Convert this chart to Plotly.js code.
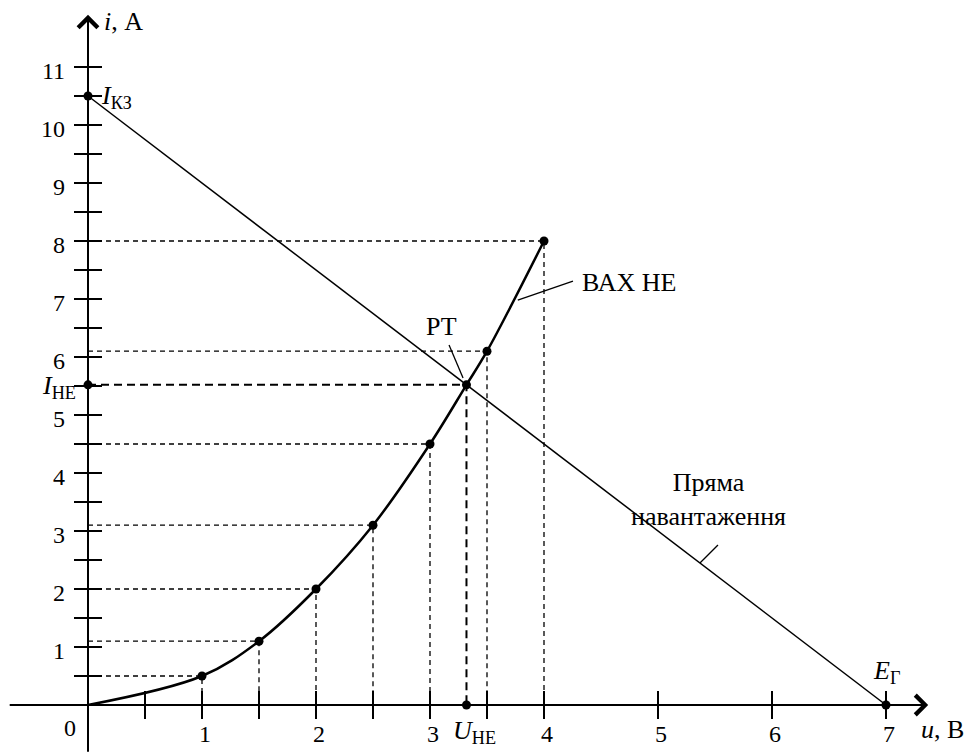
<!DOCTYPE html>
<html>
<head>
<meta charset="utf-8">
<script src="https://cdn.plot.ly/plotly-3.0.1.min.js"></script>
<style>html,body{margin:0;padding:0;background:#fff;}#chart{width:968px;height:753px;}</style>
</head>
<body>
<div id="chart"></div>
<script>
// ---- data ----
const CURVE_U = [0, 1, 1.5, 2, 2.5, 3, 3.5, 4];      // u, В (ВАХ НЕ)
const CURVE_I = [0, 0.5, 1.1, 2, 3.1, 4.5, 6.1, 8];  // i, А
const I_KZ = 10.5;   // short-circuit current
const E_G = 7;       // source EMF
const U_HE = 3.32;   // operating point voltage
const I_HE = 5.52;   // operating point current
const X_TICKS = [0.5, 1, 1.5, 2, 2.5, 3, 3.5, 4, 5, 6, 7];
const Y_TICKS = [0.5,1,1.5,2,2.5,3,3.5,4,4.5,5,5.5,6,6.5,7,7.5,8,8.5,9,9.5,10,10.5,11];
const X_LABELS = ['1','2','3','4','5','6','7'];
const X_LABEL_VALS = [1,2,3,4,5,6,7];
const Y_LABELS = ['1','2','3','4','5','6','7','8','9','10','11'];
const Y_LABEL_VALS = [1,2,3,4,5,6,7,8,9,10,11];

const FONT = "'Liberation Serif', 'Times New Roman', 'DejaVu Serif', serif";
const BLACK = '#000';

// curve including the operating point
const cu = [], ci = [];
CURVE_U.forEach((u, k) => {
  if (k > 0 && CURVE_U[k-1] < U_HE && u > U_HE) { cu.push(U_HE); ci.push(I_HE); }
  cu.push(u); ci.push(CURVE_I[k]);
});

// dashed guides from marked curve points
const gx = [], gy = [];
for (let k = 1; k < CURVE_U.length; k++) {
  gx.push(0, CURVE_U[k], CURVE_U[k], null);
  gy.push(CURVE_I[k], CURVE_I[k], 0, null);
}

const traces = [
  { x: gx, y: gy, mode: 'lines', line: { color: BLACK, width: 1.3, dash: '5px,4px' }, hoverinfo: 'skip' },
  { x: [0, U_HE, U_HE], y: [I_HE, I_HE, 0], mode: 'lines', line: { color: BLACK, width: 2, dash: '8px,5px' }, hoverinfo: 'skip' },
  { x: [0, E_G], y: [I_KZ, 0], mode: 'lines', line: { color: BLACK, width: 1.5 }, hoverinfo: 'skip' },
  { x: cu, y: ci, mode: 'lines', line: { color: BLACK, width: 2.5, shape: 'spline', smoothing: 1 }, hoverinfo: 'skip' },
  { x: X_TICKS, y: X_TICKS.map(() => 0), mode: 'markers', marker: { symbol: 'line-ns', size: 20, line: { color: BLACK, width: 2 } }, hoverinfo: 'skip' },
  { x: Y_TICKS.map(() => 0), y: Y_TICKS, mode: 'markers', marker: { symbol: 'line-ew', size: 20, line: { color: BLACK, width: 2 } }, hoverinfo: 'skip' },
  { x: CURVE_U.slice(1).concat([U_HE, 0, U_HE, 0, E_G]),
    y: CURVE_I.slice(1).concat([I_HE, I_HE, 0, I_KZ, 0]),
    mode: 'markers', marker: { color: BLACK, size: 9 }, hoverinfo: 'skip' }
];

const ann = [];
// axes with open arrowheads
ann.push({ x: 7.37, y: 0, ax: -0.70, ay: 0, axref: 'x', ayref: 'y', xref: 'x', yref: 'y', text: '', showarrow: true,
  arrowhead: 4, arrowsize: 1.9, arrowwidth: 2, arrowcolor: BLACK });
ann.push({ x: 0, y: 11.9, ax: 0, ay: -0.83, axref: 'x', ayref: 'y', xref: 'x', yref: 'y', text: '', showarrow: true,
  arrowhead: 4, arrowsize: 1.9, arrowwidth: 2, arrowcolor: BLACK });

const tf = { family: FONT, size: 24, color: BLACK };
X_LABELS.forEach((t, k) => ann.push({ x: X_LABEL_VALS[k], y: 0, xref: 'x', yref: 'y', yshift: -29, xshift: 3, text: t, showarrow: false, font: tf }));
Y_LABELS.forEach((t, k) => ann.push({ x: 0, y: Y_LABEL_VALS[k], xref: 'x', yref: 'y', xshift: -21, yshift: -4, xanchor: 'right', text: t, showarrow: false, font: tf }));
ann.push({ x: 0, y: 0, xref: 'x', yref: 'y', xshift: -18, yshift: -23, text: '0', showarrow: false, font: tf });

const lf = { family: FONT, size: 26, color: BLACK };
ann.push({ x: 0.12, y: 11.78, xref: 'x', yref: 'y', xanchor: 'left', text: '<i>i</i>, А', showarrow: false, font: lf });
ann.push({ x: 7.7, y: -0.43, xref: 'x', yref: 'y', xanchor: 'right', text: '<i>u</i>, В', showarrow: false, font: lf });
ann.push({ x: 0.1, y: I_KZ, xref: 'x', yref: 'y', xanchor: 'left', yshift: -1, text: '<i>I</i><sub>КЗ</sub>', showarrow: false, font: lf });
ann.push({ x: 0, y: I_HE, xref: 'x', yref: 'y', xanchor: 'right', xshift: -10, yshift: -2, text: '<i>I</i><sub>НЕ</sub>', showarrow: false, font: lf });
ann.push({ x: U_HE, y: 0, xref: 'x', yref: 'y', yshift: -27, xshift: 8, text: '<i>U</i><sub>НЕ</sub>', showarrow: false, font: lf });
ann.push({ x: E_G, y: 0, xref: 'x', yref: 'y', yshift: 33, xshift: 0, text: '<i>E</i><sub>Г</sub>', showarrow: false, font: lf });
ann.push({ x: 3.105, y: 6.52, xref: 'x', yref: 'y', text: 'РТ', showarrow: false, font: lf });
ann.push({ x: 4.32, y: 7.29, xref: 'x', yref: 'y', xanchor: 'left', text: 'ВАХ НЕ', showarrow: false, font: lf });
ann.push({ x: 5.447, y: 3.55, xref: 'x', yref: 'y', text: 'Пряма<br>навантаження', showarrow: false, font: lf });

// leader lines
const slope = -I_KZ / E_G;
const lu = 5.368, li = I_KZ + slope * lu;
const shapes = [
  { type: 'line', xref: 'x', yref: 'y', x0: 3.167, y0: 6.207, x1: U_HE - 0.03, y1: I_HE + 0.12, line: { color: BLACK, width: 1.3 } },
  { type: 'line', xref: 'x', yref: 'y', x0: 4.254, y0: 7.31, x1: 3.77, y1: 6.98, line: { color: BLACK, width: 1.3 } },
  { type: 'line', xref: 'x', yref: 'y', x0: lu + 0.158, y0: li + 0.31, x1: lu, y1: li, line: { color: BLACK, width: 1.3 } }
];

const layout = {
  width: 968, height: 753,
  margin: { l: 0, r: 0, t: 0, b: 0, pad: 0 },
  paper_bgcolor: '#fff', plot_bgcolor: '#fff',
  showlegend: false,
  font: { family: FONT, size: 22, color: BLACK },
  xaxis: { range: [-88/114, 880/114], visible: false, fixedrange: true },
  yaxis: { range: [-48/58, 705/58], visible: false, fixedrange: true },
  annotations: ann,
  shapes: shapes
};

Plotly.newPlot('chart', traces, layout, { displayModeBar: false, staticPlot: true });
</script>
</body>
</html>
